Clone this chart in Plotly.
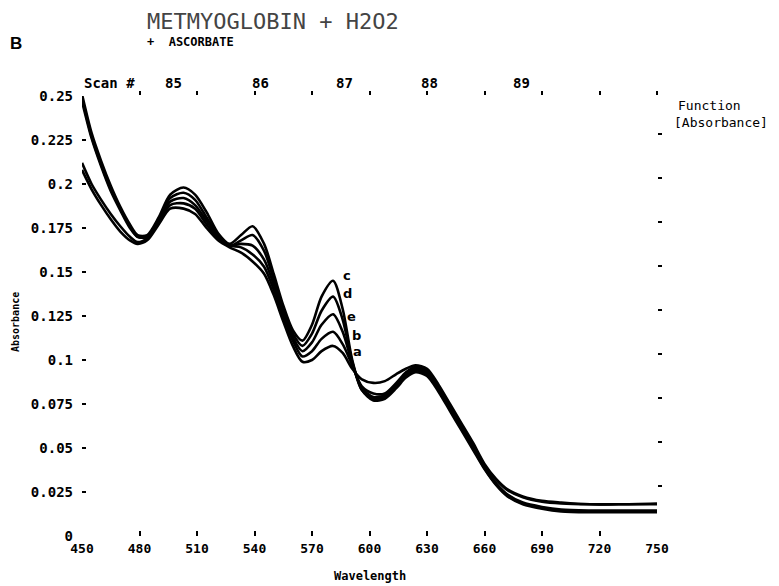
import plotly.graph_objects as go

# Wavelength grid (nm)
wavelength = [450, 455, 460, 465, 470, 475, 479, 484, 490, 496, 503, 509, 515, 521, 527, 533,
              539, 545, 550, 555, 560, 565, 570, 575, 581, 586, 591, 596, 602, 608, 614, 619,
              624, 630, 636, 642, 648, 654, 660, 666, 672, 680, 690, 700, 715, 730, 750]

abs_c = [0.251, 0.229, 0.213, 0.199, 0.187, 0.177, 0.171, 0.171, 0.181, 0.194, 0.198, 0.194, 0.184, 0.172, 0.166, 0.171,
         0.176, 0.166, 0.149, 0.131, 0.117, 0.111, 0.120, 0.136, 0.145, 0.129, 0.100, 0.083, 0.077, 0.078, 0.084, 0.090,
         0.093, 0.091, 0.082, 0.071, 0.060, 0.049, 0.038, 0.029, 0.0225, 0.018, 0.0155, 0.014, 0.0135, 0.0135, 0.0135]
abs_d = [0.249, 0.227, 0.211, 0.197, 0.186, 0.176, 0.170, 0.170, 0.180, 0.192, 0.195, 0.191, 0.181, 0.171, 0.165, 0.168,
         0.171, 0.162, 0.146, 0.129, 0.115, 0.108, 0.115, 0.128, 0.136, 0.123, 0.099, 0.083, 0.078, 0.079, 0.085, 0.091,
         0.094, 0.092, 0.083, 0.072, 0.061, 0.050, 0.0385, 0.0295, 0.023, 0.0185, 0.016, 0.0145, 0.014, 0.014, 0.014]
abs_e = [0.247, 0.226, 0.210, 0.196, 0.185, 0.175, 0.170, 0.170, 0.179, 0.190, 0.192, 0.188, 0.179, 0.170, 0.165, 0.166,
         0.165, 0.157, 0.143, 0.127, 0.113, 0.105, 0.110, 0.120, 0.126, 0.116, 0.098, 0.084, 0.079, 0.080, 0.086, 0.092,
         0.095, 0.093, 0.084, 0.073, 0.062, 0.051, 0.039, 0.030, 0.0235, 0.019, 0.0165, 0.015, 0.0145, 0.0145, 0.0145]
abs_b = [0.212, 0.200, 0.191, 0.183, 0.176, 0.170, 0.167, 0.169, 0.178, 0.188, 0.189, 0.186, 0.177, 0.169, 0.165, 0.164,
         0.160, 0.153, 0.140, 0.125, 0.111, 0.102, 0.105, 0.112, 0.116, 0.109, 0.097, 0.085, 0.081, 0.081, 0.087, 0.093,
         0.096, 0.094, 0.085, 0.074, 0.063, 0.052, 0.040, 0.032, 0.026, 0.022, 0.0195, 0.0185, 0.018, 0.018, 0.018]
abs_a = [0.208, 0.197, 0.188, 0.180, 0.173, 0.168, 0.166, 0.168, 0.177, 0.186, 0.186, 0.183, 0.175, 0.168, 0.164, 0.161,
         0.156, 0.149, 0.137, 0.122, 0.108, 0.099, 0.100, 0.105, 0.108, 0.104, 0.095, 0.089, 0.087, 0.088, 0.092, 0.095,
         0.097, 0.095, 0.086, 0.075, 0.064, 0.053, 0.041, 0.0325, 0.0265, 0.0225, 0.020, 0.019, 0.018, 0.018, 0.0185]

series = {"a": abs_a, "b": abs_b, "c": abs_c, "d": abs_d, "e": abs_e}

# curve labels (letter, wavelength, absorbance)
curve_labels = [("c", 588.0, 0.148), ("d", 588.4, 0.138), ("e", 590.7, 0.125),
                ("b", 593.0, 0.114), ("a", 593.8, 0.105)]

x_ticks = [450, 480, 510, 540, 570, 600, 630, 660, 690, 720, 750]
y_ticks = [0, 0.025, 0.05, 0.075, 0.1, 0.125, 0.15, 0.175, 0.2, 0.225, 0.25]
y_ticktext = ["0", "0.025", "0.05", "0.075", "0.1", "0.125", "0.15", "0.175", "0.2", "0.225", "0.25"]
right_ticks = [0.025, 0.05, 0.075, 0.1, 0.125, 0.15, 0.175, 0.2, 0.225]

scan_labels = ["85", "86", "87", "88", "89"]
scan_positions = [497.5, 542.9, 587.2, 631.5, 679.5]

MONO = "DejaVu Sans Mono"

fig = go.Figure()
for name, vals in series.items():
    fig.add_trace(go.Scatter(x=wavelength, y=vals, mode="lines", name=name,
                             line=dict(color="black", width=2.6, shape="spline", smoothing=0.8),
                             showlegend=False, hoverinfo="skip"))

# dummy trace so the top/right tick axes get drawn
fig.add_trace(go.Scatter(x=[wavelength[0], wavelength[-1]], y=[0.1, 0.1], xaxis="x2", yaxis="y2",
                         mode="lines", line=dict(width=0, color="rgba(0,0,0,0)"),
                         showlegend=False, hoverinfo="skip"))

# the page body adds an 8px offset; figure is sized to fill the rest of the window
fig.update_layout(
    width=771, height=578,
    margin=dict(l=74, r=122, t=88, b=50),
    paper_bgcolor="white", plot_bgcolor="white",
    xaxis=dict(range=[450, 750], tickvals=x_ticks, ticks="inside", ticklen=5, tickwidth=1.5,
               tickcolor="black", showline=False, showgrid=False, zeroline=False,
               tickfont=dict(family=MONO, size=13, color="black", weight="bold"),
               ticklabelstandoff=3),
    yaxis=dict(range=[0, 0.25], tickvals=y_ticks, ticktext=y_ticktext, ticks="inside", ticklen=4,
               tickwidth=2, tickcolor="black", showline=False, showgrid=False, zeroline=False,
               tickfont=dict(family=MONO, size=14, color="black", weight="bold"),
               ticklabelstandoff=8),
    xaxis2=dict(range=[450, 750], overlaying="x", side="top", anchor="y", tickvals=x_ticks[1:],
                ticks="outside", ticklen=4, tickwidth=1.5, tickcolor="black", showticklabels=False,
                showline=False, showgrid=False, zeroline=False),
    yaxis2=dict(range=[-0.0034, 0.2466], overlaying="y", side="right", anchor="x", tickvals=right_ticks,
                ticks="outside", ticklen=4, tickwidth=2, tickcolor="black", showticklabels=False,
                showline=False, showgrid=False, zeroline=False),
)

ann = []
for letter, xv, yv in curve_labels:
    ann.append(dict(x=xv, y=yv, xref="x", yref="y", text=letter, showarrow=False,
                    font=dict(family="DejaVu Sans", size=13, color="black", weight="bold")))
ann.append(dict(x=464.6, y=1.052, xref="x", yref="paper", text="Scan #", showarrow=False,
                font=dict(family=MONO, size=14, color="black", weight="bold")))
for lab, xv in zip(scan_labels, scan_positions):
    ann.append(dict(x=xv, y=1.052, xref="x", yref="paper", text=lab, showarrow=False,
                    font=dict(family=MONO, size=14, color="black", weight="bold")))

# helpers: window pixel -> paper coordinates (plot area spans x 82..657, y 96..536 in the window)
px = lambda v: (v - 82) / 575
py = lambda v: (536 - v) / 440
ann.append(dict(x=px(145), y=py(22), xref="paper", yref="paper", xanchor="left", yanchor="middle",
                text="METMYOGLOBIN + H2O2", showarrow=False,
                font=dict(family=MONO, size=22, color="#444")))
ann.append(dict(x=px(145), y=py(42), xref="paper", yref="paper", xanchor="left", yanchor="middle",
                text="+  ASCORBATE", showarrow=False,
                font=dict(family=MONO, size=12, color="black", weight="bold")))
ann.append(dict(x=px(8), y=py(43), xref="paper", yref="paper", xanchor="left", yanchor="middle",
                text="B", showarrow=False,
                font=dict(family="Liberation Sans", size=17, color="black", weight="bold")))
ann.append(dict(x=px(676), y=py(105), xref="paper", yref="paper", xanchor="left", yanchor="middle",
                text="Function", showarrow=False,
                font=dict(family=MONO, size=13, color="black")))
ann.append(dict(x=px(672), y=py(122), xref="paper", yref="paper", xanchor="left", yanchor="middle",
                text="[Absorbance]", showarrow=False,
                font=dict(family=MONO, size=13, color="black")))
ann.append(dict(x=px(15), y=py(322), xref="paper", yref="paper", xanchor="center", yanchor="middle",
                text="Absorbance", textangle=-90, showarrow=False,
                font=dict(family=MONO, size=10, color="black", weight="bold")))
ann.append(dict(x=px(370), y=py(576), xref="paper", yref="paper", xanchor="center", yanchor="middle",
                text="Wavelength", showarrow=False,
                font=dict(family=MONO, size=12, color="black", weight="bold")))
fig.update_layout(annotations=ann)

fig.write_html("out.html")
